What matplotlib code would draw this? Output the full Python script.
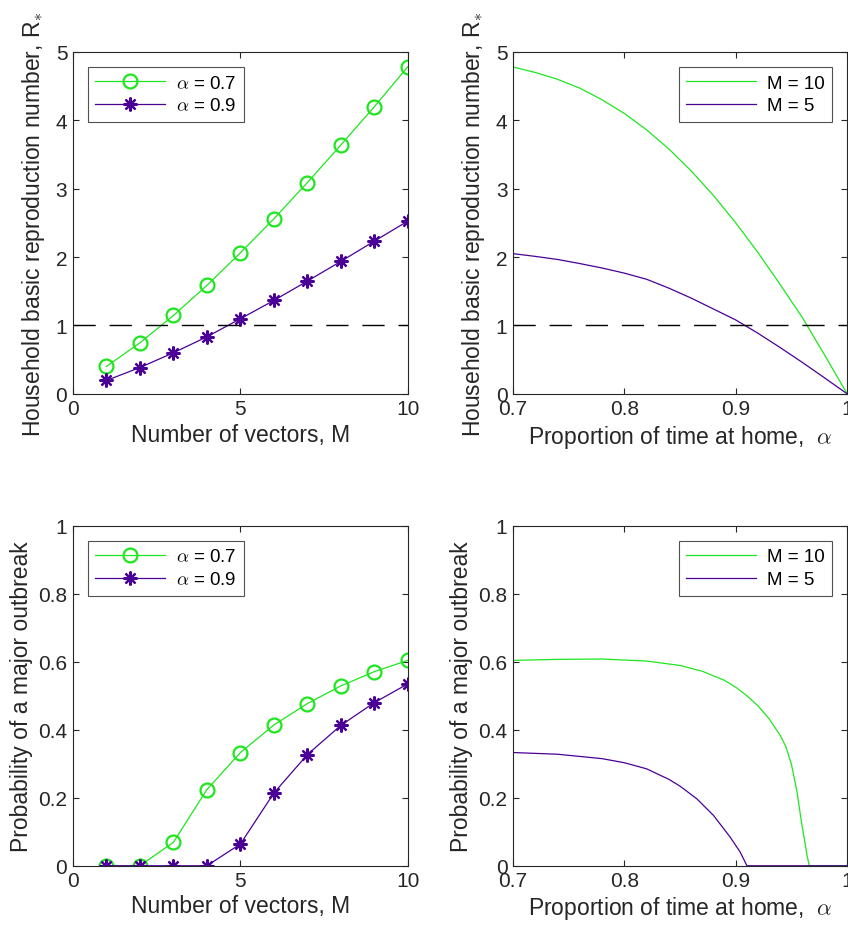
import numpy as np
import matplotlib
matplotlib.use("Agg")
import matplotlib.pyplot as plt

plt.rcParams['font.family'] = ['Liberation Sans', 'DejaVu Sans']
plt.rcParams['mathtext.fontset'] = 'cm'

# data
M = [1, 2, 3, 4, 5, 6, 7, 8, 9, 10]
R_a07 = [0.40, 0.746, 1.146, 1.585, 2.063, 2.56, 3.09, 3.64, 4.20, 4.785]
R_a09 = [0.195, 0.385, 0.60, 0.834, 1.098, 1.366, 1.649, 1.937, 2.234, 2.527]
P_a07 = [0.0, 0.0, 0.069, 0.224, 0.333, 0.414, 0.477, 0.529, 0.571, 0.604]
P_a09 = [0.0, 0.0, 0.0, 0.0, 0.064, 0.214, 0.327, 0.413, 0.480, 0.535]

alpha_R10 = [0.70, 0.72, 0.74, 0.76, 0.78, 0.80, 0.82, 0.84, 0.86, 0.88, 0.90,
             0.92, 0.94, 0.96, 0.98, 1.0]
R_M10 = [4.78, 4.70, 4.60, 4.47, 4.30, 4.10, 3.86, 3.58, 3.26, 2.90, 2.50,
         2.065, 1.595, 1.11, 0.56, 0.0]
alpha_R5 = [0.70, 0.72, 0.74, 0.76, 0.78, 0.80, 0.82, 0.84, 0.86, 0.88, 0.90,
            0.92, 0.94, 0.96, 0.98, 1.0]
R_M5 = [2.05, 2.01, 1.965, 1.905, 1.84, 1.765, 1.675, 1.545, 1.40, 1.24, 1.08,
        0.885, 0.675, 0.457, 0.23, 0.0]

alpha_P10 = [0.70, 0.74, 0.78, 0.82, 0.85, 0.87, 0.89, 0.90, 0.91, 0.92, 0.93,
             0.94, 0.945, 0.95, 0.955, 0.959, 0.962, 0.964, 0.966, 1.0]
P_M10 = [0.604, 0.607, 0.608, 0.602, 0.589, 0.572, 0.545, 0.525, 0.50, 0.470,
         0.432, 0.383, 0.35, 0.298, 0.217, 0.128, 0.07, 0.03, 0.0, 0.0]
alpha_P5 = [0.70, 0.74, 0.78, 0.80, 0.82, 0.84, 0.85, 0.865, 0.88, 0.895,
            0.904, 0.91, 1.0]
P_M5 = [0.333, 0.328, 0.315, 0.303, 0.285, 0.254, 0.234, 0.197, 0.148, 0.084,
        0.04, 0.0, 0.0]

green = '#1ee61e'
purple = '#4b0096'
axcol = '#262626'
star = (8, 2, 0)

fig = plt.figure(figsize=(8.48, 9.29), dpi=100)
ax1 = fig.add_axes([0.086, 0.575, 0.395, 0.368])
ax2 = fig.add_axes([0.605, 0.575, 0.394, 0.368])
ax3 = fig.add_axes([0.086, 0.067, 0.395, 0.366])
ax4 = fig.add_axes([0.605, 0.067, 0.394, 0.366])


def style(ax):
    for s in ax.spines.values():
        s.set_color(axcol)
        s.set_linewidth(0.8)
    ax.tick_params(direction='in', top=True, right=True, labelsize=15,
                   colors=axcol, length=4, width=0.8, pad=4)


def legend(ax, loc):
    lg = ax.legend(loc=loc, fontsize=13.5, handlelength=3.7, frameon=True,
                   fancybox=False, borderpad=0.4, labelspacing=0.3,
                   handletextpad=0.6, borderaxespad=0.8)
    lg.get_frame().set_edgecolor(axcol)
    lg.get_frame().set_linewidth(0.8)


ylab_R = 'Household basic reproduction number, R$_{\\ast}$'
ylab_P = 'Probability of a major outbreak'
xlab_M = 'Number of vectors, M'
xlab_a = 'Proportion of time at home,  $\\alpha$'

# top left
ax1.plot(M, R_a07, color=green, lw=0.9, marker='o', ms=10, mfc='none', mew=1.6, label='$\\alpha$ = 0.7')
ax1.plot(M, R_a09, color=purple, lw=0.9, marker=star, ms=10, mew=1.6, label='$\\alpha$ = 0.9')
ax1.axhline(1, color='black', lw=1, linestyle=(0, (16, 10)))
ax1.set_xlim(0, 10)
ax1.set_ylim(0, 5)
ax1.set_xticks([0, 5, 10])
ax1.set_yticks([0, 1, 2, 3, 4, 5])
ax1.set_xlabel(xlab_M, fontsize=16.5, color=axcol, labelpad=3)
ax1.set_ylabel(ylab_R, fontsize=16.5, color=axcol, labelpad=6)
style(ax1)
legend(ax1, 'upper left')

# top right
ax2.plot(alpha_R10, R_M10, color=green, lw=0.9, label='M = 10')
ax2.plot(alpha_R5, R_M5, color=purple, lw=0.9, label='M = 5')
ax2.axhline(1, color='black', lw=1, linestyle=(0, (16, 10)))
ax2.set_xlim(0.7, 1)
ax2.set_ylim(0, 5)
ax2.set_xticks([0.7, 0.8, 0.9, 1.0])
ax2.set_xticklabels(['0.7', '0.8', '0.9', '1'])
ax2.set_yticks([0, 1, 2, 3, 4, 5])
ax2.set_xlabel(xlab_a, fontsize=16.5, color=axcol, labelpad=3)
ax2.set_ylabel(ylab_R, fontsize=16.5, color=axcol, labelpad=6)
style(ax2)
legend(ax2, 'upper right')

# bottom left
ax3.plot(M, P_a07, color=green, lw=0.9, marker='o', ms=10, mfc='none', mew=1.6, label='$\\alpha$ = 0.7')
ax3.plot(M, P_a09, color=purple, lw=0.9, marker=star, ms=10, mew=1.6, label='$\\alpha$ = 0.9')
ax3.set_xlim(0, 10)
ax3.set_ylim(0, 1)
ax3.set_xticks([0, 5, 10])
ax3.set_yticks([0, 0.2, 0.4, 0.6, 0.8, 1])
ax3.set_yticklabels(['0', '0.2', '0.4', '0.6', '0.8', '1'])
ax3.set_xlabel(xlab_M, fontsize=16.5, color=axcol, labelpad=3)
ax3.set_ylabel(ylab_P, fontsize=16.5, color=axcol, labelpad=4)
style(ax3)
legend(ax3, 'upper left')

# bottom right
ax4.plot(alpha_P10, P_M10, color=green, lw=0.9, label='M = 10')
ax4.plot(alpha_P5, P_M5, color=purple, lw=0.9, label='M = 5')
ax4.set_xlim(0.7, 1)
ax4.set_ylim(0, 1)
ax4.set_xticks([0.7, 0.8, 0.9, 1.0])
ax4.set_xticklabels(['0.7', '0.8', '0.9', '1'])
ax4.set_yticks([0, 0.2, 0.4, 0.6, 0.8, 1])
ax4.set_yticklabels(['0', '0.2', '0.4', '0.6', '0.8', '1'])
ax4.set_xlabel(xlab_a, fontsize=16.5, color=axcol, labelpad=3)
ax4.set_ylabel(ylab_P, fontsize=16.5, color=axcol, labelpad=4)
style(ax4)
legend(ax4, 'upper right')

fig.savefig('out.png', dpi=100)
